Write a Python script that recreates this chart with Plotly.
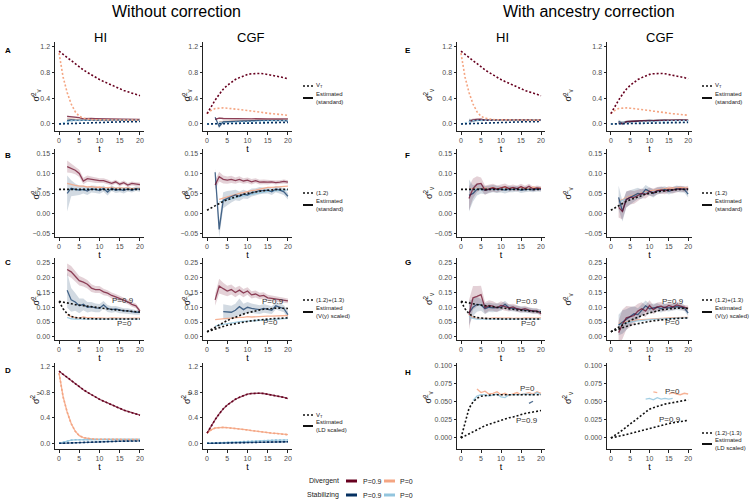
import plotly.graph_objects as go

T = list(range(21))

# true values (dotted lines)
VT_HI_DIV09 = [1.13, 1.08, 1.03, 0.98, 0.93, 0.88, 0.84, 0.80, 0.76, 0.72, 0.69, 0.66, 0.63, 0.60, 0.57, 0.55, 0.52, 0.50, 0.48, 0.46, 0.44]
VT_HI_DIV0 = [1.10, 0.73, 0.49, 0.31, 0.19, 0.12, 0.09, 0.075, 0.068, 0.065, 0.063, 0.062, 0.062, 0.061, 0.061, 0.061, 0.060, 0.060, 0.060, 0.060, 0.060]
VT_HI_STAB09 = [0.000, 0.003, 0.006, 0.009, 0.012, 0.014, 0.017, 0.019, 0.021, 0.023, 0.025, 0.026, 0.028, 0.029, 0.031, 0.033, 0.034, 0.035, 0.036, 0.037, 0.038]
VT_HI_STAB0 = [0.000, 0.020, 0.041, 0.050, 0.055, 0.058, 0.059, 0.060, 0.060, 0.060, 0.060, 0.060, 0.060, 0.060, 0.060, 0.060, 0.060, 0.060, 0.060, 0.060, 0.060]

VT_CGF_DIV09 = [0.16, 0.27, 0.37, 0.46, 0.54, 0.60, 0.65, 0.69, 0.72, 0.75, 0.77, 0.78, 0.785, 0.785, 0.78, 0.77, 0.76, 0.75, 0.73, 0.72, 0.70]
VT_CGF_DIV0 = [0.16, 0.21, 0.24, 0.25, 0.25, 0.245, 0.24, 0.23, 0.22, 0.215, 0.21, 0.20, 0.19, 0.185, 0.18, 0.17, 0.16, 0.155, 0.15, 0.14, 0.135]
VT_CGF_STAB09 = [0.000, 0.001, 0.002, 0.003, 0.005, 0.006, 0.0075, 0.009, 0.0105, 0.012, 0.013, 0.0145, 0.016, 0.0175, 0.019, 0.020, 0.021, 0.022, 0.023, 0.024, 0.0245]
VT_CGF_STAB0 = [0.000, 0.003, 0.007, 0.011, 0.015, 0.020, 0.024, 0.028, 0.032, 0.036, 0.040, 0.042, 0.044, 0.046, 0.047, 0.048, 0.049, 0.050, 0.051, 0.052, 0.053]

EQ12_HI = [0.060, 0.060, 0.060, 0.060, 0.060, 0.060, 0.060, 0.060, 0.060, 0.060, 0.060, 0.060, 0.060, 0.060, 0.060, 0.060, 0.060, 0.060, 0.060, 0.060, 0.060]
EQ12_CGF = [0.008, 0.014, 0.020, 0.025, 0.030, 0.034, 0.038, 0.042, 0.045, 0.048, 0.050, 0.052, 0.054, 0.056, 0.057, 0.058, 0.059, 0.060, 0.060, 0.060, 0.060]

SUM_HI_P09 = [0.120, 0.118, 0.115, 0.112, 0.109, 0.107, 0.105, 0.103, 0.101, 0.099, 0.097, 0.095, 0.094, 0.092, 0.091, 0.090, 0.088, 0.087, 0.086, 0.085, 0.084]
SUM_HI_P0 = [0.120, 0.095, 0.078, 0.069, 0.065, 0.063, 0.062, 0.061, 0.061, 0.060, 0.060, 0.060, 0.060, 0.060, 0.060, 0.060, 0.060, 0.060, 0.060, 0.060, 0.060]
SUM_CGF_P09 = [0.017, 0.025, 0.033, 0.041, 0.048, 0.055, 0.061, 0.067, 0.072, 0.077, 0.081, 0.085, 0.088, 0.091, 0.093, 0.095, 0.096, 0.097, 0.097, 0.097, 0.096]
SUM_CGF_P0 = [0.017, 0.022, 0.027, 0.031, 0.035, 0.039, 0.042, 0.045, 0.048, 0.050, 0.052, 0.054, 0.056, 0.057, 0.058, 0.060, 0.061, 0.062, 0.062, 0.063, 0.064]

DIFF_HI_P0 = [0.000, 0.020, 0.041, 0.050, 0.055, 0.058, 0.059, 0.060, 0.060, 0.060, 0.060, 0.060, 0.060, 0.060, 0.060, 0.060, 0.060, 0.060, 0.060, 0.060, 0.060]
DIFF_HI_P09 = [0.000, 0.003, 0.006, 0.009, 0.012, 0.0144, 0.017, 0.019, 0.021, 0.023, 0.0245, 0.026, 0.028, 0.029, 0.031, 0.033, 0.034, 0.035, 0.036, 0.037, 0.038]
DIFF_CGF_P0 = [0.000, 0.003, 0.007, 0.011, 0.015, 0.020, 0.024, 0.028, 0.032, 0.036, 0.040, 0.042, 0.044, 0.046, 0.047, 0.048, 0.049, 0.050, 0.051, 0.052, 0.053]
DIFF_CGF_P09 = [0.000, 0.001, 0.002, 0.003, 0.005, 0.006, 0.0075, 0.009, 0.0105, 0.012, 0.013, 0.0145, 0.016, 0.0175, 0.019, 0.020, 0.021, 0.022, 0.023, 0.024, 0.0245]

# estimates without correction (standard)
B_HI_DIV09 = [None, None, 0.117, 0.113, 0.108, 0.100, 0.081, 0.087, 0.085, 0.083, 0.082, 0.082, 0.079, 0.075, 0.079, 0.073, 0.077, 0.071, 0.075, 0.073, 0.072]
B_HI_DIV0 = [None, None, 0.075, 0.072, 0.070, 0.068, 0.068, 0.066, 0.067, 0.065, 0.066, 0.064, 0.064, 0.065, 0.063, 0.064, 0.063, 0.064, 0.062, 0.063, 0.063]
B_HI_STAB09 = [None, None, 0.050, 0.063, 0.060, 0.058, 0.060, 0.056, 0.061, 0.060, 0.057, 0.062, 0.053, 0.063, 0.058, 0.060, 0.057, 0.061, 0.058, 0.062, 0.060]
B_HI_STAB0 = [None, None, 0.058, 0.061, 0.059, 0.060, 0.059, 0.061, 0.060, 0.059, 0.060, 0.061, 0.059, 0.060, 0.060, 0.059, 0.061, 0.060, 0.059, 0.060, 0.061]
B_HI_DIV09_CI = [None, None, 0.015, 0.012, 0.010, 0.009, 0.008, 0.008, 0.007, 0.007, 0.006, 0.006, 0.006, 0.005, 0.005, 0.005, 0.005, 0.005, 0.005, 0.005, 0.005]
B_HI_STAB09_CI = [None, None, 0.045, 0.020, 0.015, 0.012, 0.010, 0.010, 0.009, 0.009, 0.008, 0.008, 0.008, 0.007, 0.007, 0.007, 0.007, 0.006, 0.006, 0.006, 0.006]

B_CGF_DIV09 = [None, None, 0.071, 0.092, 0.085, 0.083, 0.085, 0.082, 0.085, 0.081, 0.083, 0.079, 0.082, 0.078, 0.079, 0.078, 0.079, 0.077, 0.078, 0.080, 0.078]
B_CGF_DIV0 = [None, None, None, 0.035, 0.038, 0.042, 0.045, 0.048, 0.050, 0.052, 0.055, 0.057, 0.058, 0.060, 0.062, 0.065, 0.065, 0.066, 0.067, 0.068, 0.068]
B_CGF_STAB09 = [None, None, 0.103, -0.040, 0.033, 0.038, 0.042, 0.046, 0.043, 0.048, 0.046, 0.052, 0.054, 0.057, 0.057, 0.058, 0.054, 0.061, 0.058, 0.054, 0.043]
B_CGF_STAB0 = [None, None, None, 0.028, 0.031, 0.034, 0.037, 0.040, 0.042, 0.044, 0.046, 0.048, 0.050, 0.052, 0.053, 0.055, 0.056, 0.057, 0.058, 0.058, 0.059]
B_CGF_DIV09_CI = [None, None, 0.012, 0.012, 0.010, 0.009, 0.009, 0.008, 0.008, 0.007, 0.007, 0.007, 0.006, 0.006, 0.006, 0.006, 0.005, 0.005, 0.005, 0.005, 0.005]
B_CGF_STAB09_CI = [None, None, 0.010, 0.020, 0.020, 0.018, 0.015, 0.013, 0.012, 0.011, 0.010, 0.010, 0.009, 0.009, 0.008, 0.008, 0.008, 0.008, 0.008, 0.008, 0.008]

# estimates without correction (V(y) scaled)
C_HI_DIV09 = [None, None, 0.228, 0.220, 0.205, 0.190, 0.185, 0.178, 0.165, 0.160, 0.160, 0.152, 0.148, 0.140, 0.135, 0.130, 0.125, 0.118, 0.110, 0.105, 0.087]
C_HI_DIV0 = [None, None, 0.075, 0.068, 0.065, 0.063, 0.067, 0.064, 0.065, 0.063, 0.064, 0.063, 0.062, 0.064, 0.063, 0.062, 0.063, 0.062, 0.063, 0.064, 0.063]
C_HI_STAB09 = [None, None, 0.158, 0.125, 0.118, 0.105, 0.110, 0.100, 0.102, 0.098, 0.097, 0.108, 0.096, 0.092, 0.094, 0.090, 0.088, 0.088, 0.085, 0.083, 0.083]
C_HI_STAB0 = [None, None, 0.066, 0.061, 0.060, 0.059, 0.060, 0.060, 0.059, 0.060, 0.060, 0.059, 0.060, 0.060, 0.059, 0.060, 0.060, 0.059, 0.060, 0.060, 0.060]
C_HI_DIV09_CI = [None, None, 0.020, 0.020, 0.018, 0.016, 0.015, 0.014, 0.013, 0.012, 0.012, 0.011, 0.010, 0.010, 0.010, 0.009, 0.009, 0.008, 0.008, 0.008, 0.007]
C_HI_STAB09_CI = [None, None, 0.060, 0.040, 0.030, 0.025, 0.020, 0.018, 0.016, 0.015, 0.014, 0.013, 0.012, 0.011, 0.010, 0.010, 0.009, 0.009, 0.008, 0.008, 0.008]

C_CGF_DIV09 = [None, None, 0.125, 0.172, 0.163, 0.155, 0.160, 0.150, 0.158, 0.148, 0.155, 0.142, 0.145, 0.138, 0.140, 0.132, 0.130, 0.128, 0.125, 0.124, 0.122]
C_CGF_DIV0 = [None, None, 0.058, 0.060, 0.060, 0.062, 0.063, 0.065, 0.066, 0.066, 0.068, 0.067, 0.068, 0.070, 0.069, 0.070, 0.070, 0.071, 0.070, 0.071, 0.072]
C_CGF_STAB09 = [None, None, None, None, 0.085, 0.083, 0.083, 0.090, 0.102, 0.092, 0.100, 0.096, 0.094, 0.092, 0.096, 0.094, 0.090, 0.105, 0.100, 0.095, 0.075]
C_CGF_STAB0 = [None, None, 0.035, 0.040, 0.042, 0.045, 0.047, 0.049, 0.051, 0.052, 0.054, 0.055, 0.056, 0.057, 0.058, 0.059, 0.060, 0.060, 0.061, 0.061, 0.062]
C_CGF_DIV09_CI = [None, None, 0.020, 0.025, 0.020, 0.018, 0.017, 0.016, 0.015, 0.014, 0.013, 0.012, 0.012, 0.011, 0.011, 0.010, 0.010, 0.009, 0.009, 0.009, 0.008]
C_CGF_STAB09_CI = [None, None, None, None, 0.025, 0.025, 0.022, 0.022, 0.028, 0.020, 0.018, 0.017, 0.016, 0.015, 0.015, 0.014, 0.013, 0.013, 0.012, 0.012, 0.012]

# estimates with ancestry correction (standard)
F_HI_DIV09 = [None, None, 0.037, 0.062, 0.073, 0.075, 0.058, 0.062, 0.064, 0.061, 0.064, 0.067, 0.062, 0.065, 0.062, 0.067, 0.062, 0.068, 0.061, 0.064, 0.062]
F_HI_DIV0 = [None, None, 0.060, 0.062, 0.063, 0.061, 0.064, 0.062, 0.065, 0.061, 0.063, 0.066, 0.062, 0.064, 0.061, 0.065, 0.063, 0.062, 0.066, 0.063, 0.064]
F_HI_STAB09 = [None, None, 0.045, 0.050, 0.060, 0.062, 0.058, 0.060, 0.062, 0.060, 0.060, 0.058, 0.061, 0.060, 0.062, 0.058, 0.060, 0.060, 0.059, 0.061, 0.060]
F_HI_STAB0 = [None, None, 0.058, 0.060, 0.061, 0.059, 0.060, 0.061, 0.060, 0.059, 0.061, 0.060, 0.059, 0.060, 0.061, 0.060, 0.059, 0.060, 0.061, 0.060, 0.060]
F_HI_DIV09_CI = [None, None, 0.030, 0.025, 0.020, 0.015, 0.012, 0.010, 0.010, 0.009, 0.008, 0.008, 0.008, 0.007, 0.007, 0.007, 0.007, 0.006, 0.006, 0.006, 0.006]
F_HI_STAB09_CI = [None, None, 0.040, 0.020, 0.015, 0.012, 0.010, 0.010, 0.009, 0.009, 0.008, 0.008, 0.008, 0.007, 0.007, 0.007, 0.007, 0.006, 0.006, 0.006, 0.006]

F_CGF_DIV09 = [None, None, 0.015, 0.005, 0.035, 0.040, 0.040, 0.045, 0.050, 0.048, 0.055, 0.052, 0.057, 0.058, 0.056, 0.060, 0.058, 0.060, 0.062, 0.060, 0.062]
F_CGF_DIV0 = [None, None, 0.030, 0.035, 0.040, 0.043, 0.046, 0.049, 0.052, 0.054, 0.056, 0.058, 0.059, 0.060, 0.062, 0.063, 0.064, 0.063, 0.065, 0.064, 0.063]
F_CGF_STAB09 = [None, None, 0.040, 0.005, 0.035, 0.040, 0.045, 0.050, 0.048, 0.060, 0.055, 0.050, 0.056, 0.058, 0.060, 0.055, 0.058, 0.062, 0.060, 0.060, 0.048]
F_CGF_STAB0 = [None, None, 0.028, 0.033, 0.037, 0.041, 0.044, 0.047, 0.050, 0.052, 0.054, 0.055, 0.056, 0.057, 0.058, 0.059, 0.059, 0.060, 0.060, 0.061, 0.060]
F_CGF_DIV09_CI = [None, None, 0.025, 0.020, 0.020, 0.018, 0.016, 0.014, 0.012, 0.011, 0.010, 0.010, 0.009, 0.009, 0.008, 0.008, 0.008, 0.008, 0.007, 0.007, 0.007]
F_CGF_STAB09_CI = [None, None, 0.030, 0.025, 0.020, 0.018, 0.016, 0.014, 0.012, 0.011, 0.010, 0.010, 0.009, 0.009, 0.008, 0.008, 0.008, 0.008, 0.008, 0.008, 0.008]

# estimates with ancestry correction (V(y) scaled)
G_HI_DIV09 = [None, None, 0.075, 0.132, 0.137, 0.143, 0.098, 0.106, 0.104, 0.098, 0.106, 0.101, 0.098, 0.101, 0.095, 0.092, 0.095, 0.090, 0.087, 0.088, 0.078]
G_HI_DIV0 = [None, None, 0.075, 0.065, 0.063, 0.062, 0.063, 0.062, 0.064, 0.063, 0.062, 0.063, 0.064, 0.062, 0.063, 0.062, 0.064, 0.063, 0.062, 0.063, 0.064]
G_HI_STAB09 = [None, None, 0.080, 0.100, 0.110, 0.108, 0.095, 0.100, 0.098, 0.100, 0.100, 0.110, 0.098, 0.096, 0.095, 0.092, 0.090, 0.088, 0.088, 0.086, 0.085]
G_HI_STAB0 = [None, None, 0.070, 0.062, 0.060, 0.060, 0.059, 0.060, 0.060, 0.061, 0.060, 0.059, 0.060, 0.060, 0.061, 0.060, 0.059, 0.060, 0.060, 0.060, 0.060]
G_HI_DIV09_CI = [None, None, 0.050, 0.040, 0.035, 0.030, 0.020, 0.018, 0.016, 0.015, 0.014, 0.013, 0.012, 0.011, 0.011, 0.010, 0.010, 0.009, 0.009, 0.009, 0.008]
G_HI_STAB09_CI = [None, None, 0.040, 0.030, 0.025, 0.020, 0.018, 0.016, 0.015, 0.014, 0.013, 0.012, 0.011, 0.011, 0.010, 0.010, 0.009, 0.009, 0.009, 0.008, 0.008]

G_CGF_DIV09 = [None, None, 0.014, 0.042, 0.064, 0.068, 0.072, 0.087, 0.095, 0.087, 0.106, 0.092, 0.101, 0.104, 0.098, 0.106, 0.101, 0.108, 0.104, 0.098, 0.096]
G_CGF_DIV0 = [None, None, 0.045, 0.048, 0.050, 0.053, 0.055, 0.057, 0.058, 0.060, 0.060, 0.062, 0.062, 0.063, 0.064, 0.064, 0.065, 0.065, 0.066, 0.066, 0.066]
G_CGF_STAB09 = [None, None, 0.040, 0.050, 0.058, 0.070, 0.078, 0.075, 0.090, 0.105, 0.095, 0.098, 0.100, 0.095, 0.100, 0.098, 0.100, 0.102, 0.100, 0.098, 0.080]
G_CGF_STAB0 = [None, None, 0.040, 0.044, 0.047, 0.050, 0.052, 0.054, 0.055, 0.057, 0.058, 0.059, 0.060, 0.060, 0.061, 0.062, 0.062, 0.063, 0.063, 0.064, 0.064]
G_CGF_DIV09_CI = [None, None, 0.040, 0.050, 0.040, 0.035, 0.030, 0.025, 0.022, 0.020, 0.018, 0.016, 0.015, 0.014, 0.013, 0.012, 0.012, 0.011, 0.011, 0.010, 0.010]
G_CGF_STAB09_CI = [None, None, 0.035, 0.040, 0.035, 0.030, 0.025, 0.022, 0.020, 0.018, 0.016, 0.015, 0.014, 0.013, 0.012, 0.012, 0.011, 0.011, 0.010, 0.010, 0.010]

# estimates with ancestry correction (LD scaled)
H_HI_DIV0 = [None, None, None, None, 0.068, 0.063, 0.065, 0.061, 0.062, 0.064, 0.060, 0.062, 0.059, 0.061, 0.063, 0.060, 0.062, 0.063, 0.061, 0.064, 0.062]
H_HI_STAB0 = [None, None, None, 0.052, 0.058, 0.060, 0.060, 0.058, 0.060, 0.061, 0.057, 0.056, 0.060, 0.060, 0.059, 0.060, 0.061, 0.060, 0.060, 0.063, 0.060]
H_HI_STAB09 = [None, None, None, None, None, None, None, None, None, None, None, None, None, None, None, None, None, 0.048, 0.051, None, None]
H_CGF_DIV0 = [None, None, None, None, None, None, None, None, None, None, None, 0.064, 0.063, None, None, 0.061, 0.063, 0.061, 0.060, 0.062, 0.061]
H_CGF_STAB0 = [None, None, None, None, None, None, None, None, None, 0.054, 0.055, 0.053, 0.056, 0.054, 0.055, 0.054, 0.055, None, None, None, None]

DIV09, DIV0, STAB09, STAB0 = "#67001F", "#F4A582", "#053061", "#92C5DE"
FONT = "Liberation Sans, Arial, sans-serif"
W, H = 750, 499
COLS = [(55, 144), (203, 292), (457, 545), (607, 692)]
ROWS = [(42, 131), (149, 237), (258, 340), (363, 449)]

fig = go.Figure()


def refs(k):
    return ("x" if k == 1 else f"x{k}"), ("y" if k == 1 else f"y{k}")


def rgba(h, a):
    h = h.lstrip("#")
    return f"rgba({int(h[0:2], 16)},{int(h[2:4], 16)},{int(h[4:6], 16)},{a})"


def truth(k, y, color):
    xr, yr = refs(k)
    fig.add_trace(go.Scatter(x=T, y=y, mode="lines", xaxis=xr, yaxis=yr, hoverinfo="skip",
                             line=dict(color=color, width=1.6, dash="2px,2px")))


def band(k, y, ci, color):
    xr, yr = refs(k)
    xs = [t for t, v in zip(T, y) if v is not None]
    hi = [v + c for v, c in zip(y, ci) if v is not None]
    lo = [v - c for v, c in zip(y, ci) if v is not None]
    fig.add_trace(go.Scatter(x=xs + xs[::-1], y=hi + lo[::-1], mode="lines", fill="toself",
                             fillcolor=rgba(color, 0.18), line=dict(width=0), xaxis=xr, yaxis=yr,
                             hoverinfo="skip"))


def est(k, y, color, alpha=0.72):
    xr, yr = refs(k)
    fig.add_trace(go.Scatter(x=T, y=y, mode="lines", xaxis=xr, yaxis=yr, hoverinfo="skip",
                             line=dict(color=rgba(color, alpha), width=1.3)))


def est_group(k, div09, div0, stab09, stab0, div09_ci=None, stab09_ci=None):
    if div09_ci:
        band(k, div09, div09_ci, DIV09)
    if stab09_ci:
        band(k, stab09, stab09_ci, STAB09)
    for y, c in [(div0, DIV0), (stab0, STAB0), (stab09, STAB09), (div09, DIV09)]:
        if y:
            est(k, y, c, 0.85 if c in (DIV0, STAB0) else 0.7)


# row A / E
for k, e, vt in [(1, "B_HI", "HI"), (2, "B_CGF", "CGF"), (3, "F_HI", "HI"), (4, "F_CGF", "CGF")]:
    g = globals()
    est_group(k, g[e + "_DIV09"], g[e + "_DIV0"], g[e + "_STAB09"], g[e + "_STAB0"],
              g[e + "_DIV09_CI"], g[e + "_STAB09_CI"])
    truth(k, g[f"VT_{vt}_STAB0"], STAB0)
    truth(k, g[f"VT_{vt}_STAB09"], STAB09)
    truth(k, g[f"VT_{vt}_DIV0"], DIV0)
    truth(k, g[f"VT_{vt}_DIV09"], DIV09)

# row B / F
for k, e, tr in [(5, "B_HI", EQ12_HI), (6, "B_CGF", EQ12_CGF), (7, "F_HI", EQ12_HI), (8, "F_CGF", EQ12_CGF)]:
    g = globals()
    est_group(k, g[e + "_DIV09"], g[e + "_DIV0"], g[e + "_STAB09"], g[e + "_STAB0"],
              g[e + "_DIV09_CI"], g[e + "_STAB09_CI"])
    truth(k, tr, "#111")

# row C / G
for k, e, vt in [(9, "C_HI", "HI"), (10, "C_CGF", "CGF"), (11, "G_HI", "HI"), (12, "G_CGF", "CGF")]:
    g = globals()
    est_group(k, g[e + "_DIV09"], g[e + "_DIV0"], g[e + "_STAB09"], g[e + "_STAB0"],
              g[e + "_DIV09_CI"], g[e + "_STAB09_CI"])
    truth(k, g[f"SUM_{vt}_P0"], "#111")
    truth(k, g[f"SUM_{vt}_P09"], "#111")

# row D (LD scaled estimates sit on top of V_T)
for k, vt in [(13, "HI"), (14, "CGF")]:
    g = globals()
    est_group(k, g[f"VT_{vt}_DIV09"], g[f"VT_{vt}_DIV0"], g[f"VT_{vt}_STAB09"], g[f"VT_{vt}_STAB0"])
    truth(k, g[f"VT_{vt}_STAB0"], STAB0)
    truth(k, g[f"VT_{vt}_STAB09"], STAB09)
    truth(k, g[f"VT_{vt}_DIV0"], DIV0)
    truth(k, g[f"VT_{vt}_DIV09"], DIV09)

# row H
est_group(15, None, H_HI_DIV0, H_HI_STAB09, H_HI_STAB0)
truth(15, DIFF_HI_P0, "#111")
truth(15, DIFF_HI_P09, "#111")
est_group(16, None, H_CGF_DIV0, None, H_CGF_STAB0)
truth(16, DIFF_CGF_P0, "#111")
truth(16, DIFF_CGF_P09, "#111")

# axes
common = dict(showline=True, linecolor="#222", linewidth=1, ticks="outside", ticklen=2.5,
              tickcolor="#222", tickfont=dict(size=7, color="#4d4d4d", family=FONT),
              showgrid=False, zeroline=False, fixedrange=True)
big = dict(range=[-0.109, 1.273], tickvals=[0, 0.4, 0.8, 1.2], tickformat=".1f")
row_y = [
    [big] * 4,
    [dict(range=[-0.059, 0.161], tickvals=[-0.05, 0, 0.05, 0.10, 0.15], tickformat=".2f")] * 4,
    [dict(range=[-0.011, 0.267], tickvals=[0, 0.05, 0.10, 0.15, 0.20, 0.25], tickformat=".2f")] * 4,
    [dict(range=[-0.089, 1.258], tickvals=[0, 0.4, 0.8, 1.2], tickformat=".1f")] * 2
    + [dict(range=[-0.0153, 0.104], tickvals=[0, 0.025, 0.05, 0.075, 0.1], tickformat=".3f")] * 2,
]

layout = {}
ann = []
for r in range(4):
    for c in range(4):
        k = r * 4 + c + 1
        xr, yr = refs(k)
        x0, x1 = COLS[c]
        y0, y1 = ROWS[r]
        layout["xaxis" if k == 1 else f"xaxis{k}"] = dict(
            domain=[x0 / W, x1 / W], range=[-1, 21], tickvals=[0, 5, 10, 15, 20], anchor=yr,
            title=dict(text="t", font=dict(size=9, color="#000", family=FONT), standoff=1), **common)
        layout["yaxis" if k == 1 else f"yaxis{k}"] = dict(
            domain=[1 - y1 / H, 1 - y0 / H], anchor=xr, **row_y[r][c], **common)
        ycol = [27, 178, 428, 576][c]
        ann.append(dict(text="σ̂<sup>2</sup><sub>v</sub>", x=ycol / W, y=1 - (y0 + y1) / 2 / H,
                        xref="paper", yref="paper", showarrow=False, textangle=-90,
                        font=dict(size=9, color="#222", family=FONT)))

# P labels
for k, tx, ty, txt in [(9, 15.8, 0.122, "P=0.9"), (9, 16.2, 0.046, "P=0"),
                       (10, 16.4, 0.121, "P=0.9"), (10, 15.8, 0.050, "P=0"),
                       (11, 16.4, 0.120, "P=0.9"), (11, 16.8, 0.044, "P=0"),
                       (12, 16.0, 0.120, "P=0.9"), (12, 16.0, 0.050, "P=0"),
                       (15, 16.7, 0.0685, "P=0"), (15, 16.6, 0.0245, "P=0.9"),
                       (16, 16.0, 0.065, "P=0"), (16, 15.4, 0.026, "P=0.9")]:
    xr, yr = refs(k)
    ann.append(dict(text=txt, x=tx, y=ty, xref=xr, yref=yr, showarrow=False,
                    font=dict(size=8, color="#333", family=FONT)))


# titles
def text(s, px, py, size, bold=False, anchor="center", color="#000"):
    ann.append(dict(text=f"<b>{s}</b>" if bold else s, x=px / W, y=1 - py / H, xref="paper", yref="paper",
                    showarrow=False, xanchor=anchor, yanchor="middle", align=anchor,
                    font=dict(size=size, color=color, family=FONT)))


text("Without correction", 176, 11, 16)
text("With ancestry correction", 589, 11, 16)
for s, px in [("HI", 100), ("CGF", 251), ("HI", 502), ("CGF", 660)]:
    text(s, px, 38, 13)
for s, px, py in [("A", 3, 51), ("B", 3, 155), ("C", 3, 262), ("D", 3, 370),
                  ("E", 403, 51), ("F", 403, 155), ("G", 403, 262), ("H", 403, 372)]:
    text(s, px, py, 8, bold=True, anchor="left")

# panel legends
shapes = []


def key(px, py, dash, width=1.5, color="#111", length=10):
    shapes.append(dict(type="line", xref="paper", yref="paper", x0=px / W, x1=(px + length) / W,
                       y0=1 - py / H, y1=1 - py / H, line=dict(color=color, width=width, dash=dash)))


legend_rows = [
    ("V<sub>T</sub>", "Estimated<br>(standard)", 86, 98),
    ("(1.2)", "Estimated<br>(standard)", 193, 205),
    ("(1.2)+(1.3)", "Estimated<br>(V(y) scaled)", 300, 312),
]
for lab1, lab2, y1, y2 in legend_rows:
    for lx in (303, 702):
        key(lx, y1, "2px,2px")
        key(lx, y2, "solid", 2)
        text(lab1, lx + 11, y1, 6, anchor="left", color="#222")
        text(lab2, lx + 11, y2, 6, anchor="left", color="#222")
for lx, y1, y2, lab1 in [(303, 415, 426, "V<sub>T</sub>"), (702, 433, 444, "(1.2)-(1.3)")]:
    key(lx, y1, "2px,2px")
    key(lx, y2, "solid", 2)
    text(lab1, lx + 11, y1, 6, anchor="left", color="#222")
    text("Estimated<br>(LD scaled)", lx + 11, y2, 6, anchor="left", color="#222")

# bottom legend
for lab, py, c1, c2 in [("Divergent", 481, DIV09, DIV0), ("Stabilizing", 495, STAB09, STAB0)]:
    text(lab, 341, py, 7, anchor="right", color="#222")
    key(346, py, "solid", 3, c1, 11)
    text("P=0.9", 361, py, 7, anchor="left", color="#222")
    key(384, py, "solid", 3, c2, 11)
    text("P=0", 398, py, 7, anchor="left", color="#222")

fig.update_layout(
    width=W, height=H, margin=dict(l=0, r=0, t=0, b=0),
    paper_bgcolor="white", plot_bgcolor="white", showlegend=False,
    font=dict(family=FONT), annotations=ann, shapes=shapes, **layout,
)

fig.write_html("out.html", config={"displayModeBar": False},
               post_script="document.body.style.margin='0';")
